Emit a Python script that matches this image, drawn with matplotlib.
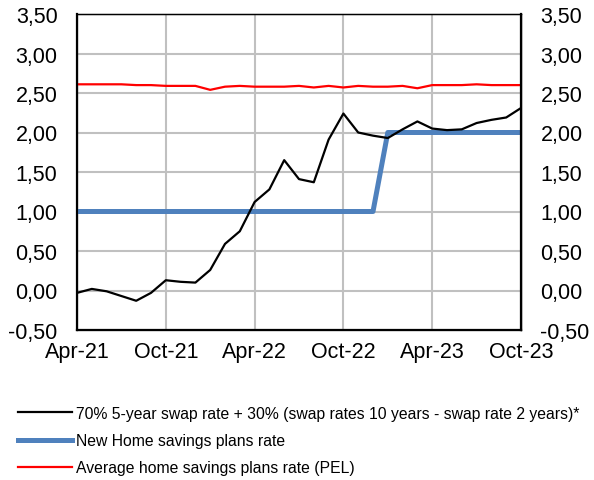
import numpy as np
import matplotlib.pyplot as plt
from matplotlib.ticker import FuncFormatter

plt.rcParams['font.family'] = ['Liberation Sans', 'DejaVu Sans']

# monthly points, Apr-21 .. Oct-23
months = np.arange(31)
tick_pos = [0, 6, 12, 18, 24, 30]
tick_labels = ['Apr-21', 'Oct-21', 'Apr-22', 'Oct-22', 'Apr-23', 'Oct-23']

swap_rate = [-0.03, 0.02, -0.01, -0.07, -0.13, -0.03, 0.13, 0.11, 0.10, 0.26,
             0.59, 0.75, 1.12, 1.28, 1.65, 1.41, 1.37, 1.91, 2.24, 2.00,
             1.96, 1.93, 2.04, 2.14, 2.05, 2.03, 2.04, 2.12, 2.16, 2.19, 2.31]
new_pel = [1.00] * 21 + [2.00] * 10
avg_pel = [2.61, 2.61, 2.61, 2.61, 2.60, 2.60, 2.59, 2.59, 2.59, 2.54,
           2.58, 2.59, 2.58, 2.58, 2.58, 2.59, 2.57, 2.59, 2.57, 2.59,
           2.58, 2.58, 2.59, 2.56, 2.60, 2.60, 2.60, 2.61, 2.60, 2.60, 2.60]

labels = ['70% 5-year swap rate + 30% (swap rates 10 years - swap rate 2 years)*',
          'New Home savings plans rate',
          'Average home savings plans rate (PEL)']

fig = plt.figure(figsize=(5.94, 4.81), dpi=100)
ax = fig.add_axes([77/594, 1 - 331/481, (521 - 77)/594, (331 - 15)/481])

l1, = ax.plot(months, swap_rate, color='black', lw=1.6, zorder=4)
l2, = ax.plot(months, new_pel, color='#4F81BD', lw=3.6, zorder=3)
l3, = ax.plot(months, avg_pel, color='#FF0000', lw=1.6, zorder=3)

ax.set_xlim(0, 30)
ax.set_ylim(-0.5, 3.5)
ax.set_xticks(tick_pos)
ax.set_xticklabels(tick_labels)
ax.set_yticks(np.arange(-0.5, 3.51, 0.5))
fmt = FuncFormatter(lambda v, p: '{:.2f}'.format(v).replace('.', ','))
ax.yaxis.set_major_formatter(fmt)
ax.grid(True, color='#C0C0C0', lw=1.5, zorder=0)
ax.set_axisbelow(True)
ax.tick_params(length=0, labelsize=15.5)
ax.tick_params(axis='y', pad=14)
ax.tick_params(axis='x', pad=8)
for s in ['left', 'bottom']:
    ax.spines[s].set_linewidth(1.6)
for s in ['top', 'right']:
    ax.spines[s].set_linewidth(1.0)

ax2 = ax.twinx()
ax2.set_ylim(ax.get_ylim())
ax2.set_yticks(np.arange(-0.5, 3.51, 0.5))
ax2.yaxis.set_major_formatter(fmt)
ax2.tick_params(length=0, labelsize=15.5, pad=14)
ax2.spines['right'].set_linewidth(1.6)

fig.legend([l1, l2, l3], labels, loc='upper left', bbox_to_anchor=(18/594, 0.154),
           frameon=False, fontsize=11.3, borderpad=0, borderaxespad=0,
           handlelength=3.45, handletextpad=0.25, labelspacing=0.78)

fig.savefig('out.png', dpi=100)
